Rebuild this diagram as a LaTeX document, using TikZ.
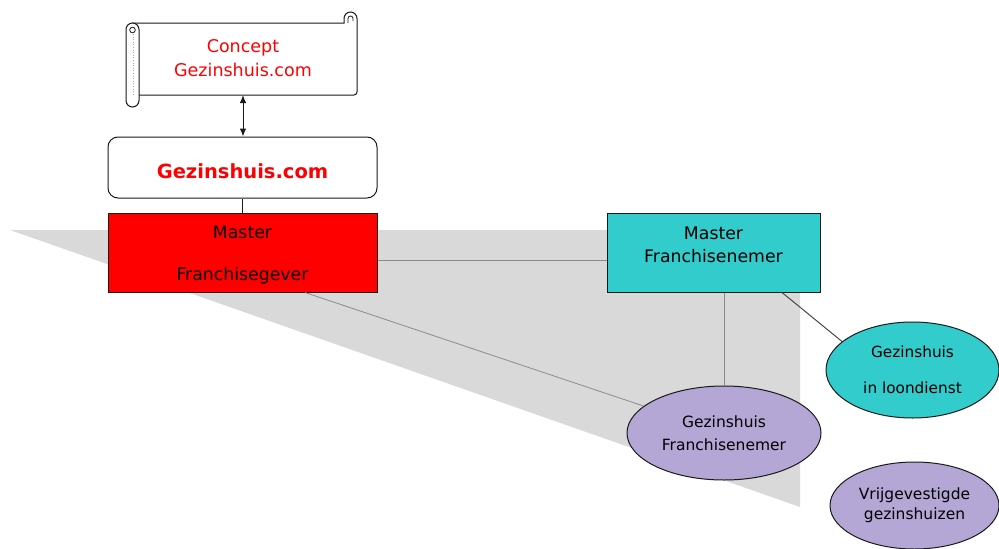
\documentclass[tikz,border=0pt]{standalone}
\usepackage{fontspec}
\setmainfont{DejaVu Sans}
\usetikzlibrary{arrows.meta,shapes.geometric,calc}
\definecolor{tealfill}{HTML}{33CCCC}
\definecolor{lavfill}{HTML}{B4A7D6}
\definecolor{shadegray}{HTML}{D9D9D9}
\definecolor{conn}{HTML}{8C8C8C}
\definecolor{outl}{HTML}{1A1A1A}
\begin{document}
\begin{tikzpicture}[x=1pt,y=-1pt,
  boxbase/.style={draw=outl,line width=1pt,inner sep=0pt,align=center},
  redbox/.style={boxbase,fill=red,minimum width=269pt,minimum height=79pt},
  tealbox/.style={boxbase,fill=tealfill,minimum width=213pt,minimum height=79pt},
  roundbox/.style={boxbase,rounded corners=10pt,fill=white,minimum width=269pt,minimum height=61pt},
  ell/.style={boxbase,ellipse,inner sep=0pt},
  txt/.style={inner sep=0pt,align=center},
  graylink/.style={draw=conn,line width=0.8pt},
  darklink/.style={draw=outl,line width=1pt},
  dbl/.style={{Latex[length=8pt,width=6.5pt]}-{Latex[length=8pt,width=6.5pt]}}
]
\useasboundingbox (0,0) rectangle (999,549);
% shaded triangle
\fill[shadegray] (10,230) -- (800,230) -- (800,507) -- cycle;
% scroll
\draw[line width=1pt,draw=outl] (132,23) -- (344,23) -- (344,18.5) arc(180:360:6.5)
   [rounded corners=3pt] -- (357,95) -- (139,95);
\draw[line width=0.8pt,draw=outl] (348,23) -- (348,18.5) arc(180:360:2.5) -- (353,21);
\draw[line width=1pt,draw=outl,fill=white,rounded corners=6.5pt] (126,23) rectangle (139,107);
\draw[line width=0.8pt,draw=outl] (132.5,30) circle (2.8);
\draw[gray!70,dotted,line width=0.6pt] (133,34) -- (133,95);
\node[txt,text=red,font=\fontsize{17.5}{24}\selectfont] (concept) at (243,58) {Concept\\Gezinshuis.com};
\coordinate (scrollbot) at (243,95);
% nodes
\node[roundbox] (gz) at (242.5,167.5) {};
\node[txt,text=red,font=\fontsize{19.5}{24}\selectfont\bfseries] (gztext) at (242.5,171) {Gezinshuis.com};
\node[redbox] (mfg) at (242.5,252.5) {};
\node[txt,font=\fontsize{17.3}{42}\selectfont] (mfgtext) at (242.5,255) {Master\\Franchisegever};
\node[tealbox] (mfn) at (713.5,252.5) {};
\node[txt,font=\fontsize{17.3}{23}\selectfont] (mfntext) at (713.5,245) {Master\\Franchisenemer};
\node[ell,fill=lavfill,minimum width=194pt,minimum height=94pt,
  font=\fontsize{15.5}{23}\selectfont] (gf) at (724,433) {Gezinshuis\\Franchisenemer};
\node[ell,fill=tealfill,minimum width=173pt,minimum height=96pt,
  font=\fontsize{15.3}{36}\selectfont] (lnd) at (912.5,370) {Gezinshuis\\in loondienst};
\node[ell,fill=lavfill,minimum width=169pt,minimum height=87pt,
  font=\fontsize{15.5}{20}\selectfont] (vrij) at (914.5,505.5) {Vrijgevestigde\\gezinshuizen};
% connectors
\draw[darklink,dbl] (scrollbot) -- (scrollbot |- gz.north);
\draw[darklink] (gz.south) -- (mfg.north);
\draw[graylink] ([yshift=-7.5pt]mfg.east) -- ([yshift=-7.5pt]mfn.west);
\draw[graylink] ([xshift=62.5pt]mfg.south) -- (gf);
\draw[graylink] (gf.north |- mfn.south) -- (gf.north);
\draw[darklink,draw=outl!80] ([xshift=68.5pt]mfn.south) -- (lnd.158);
\end{tikzpicture}
\end{document}
